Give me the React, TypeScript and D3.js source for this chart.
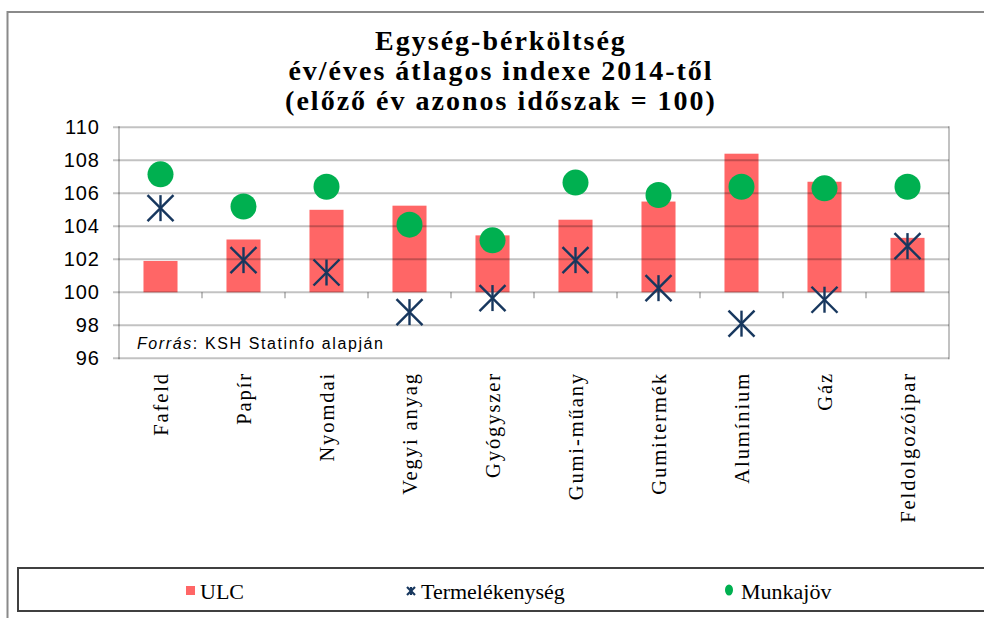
import React from "react";
import * as d3 from "d3";

const categories = ["Fafeld", "Papír", "Nyomdai", "Vegyi anyag", "Gyógyszer", "Gumi-műany", "Gumitermék", "Alumínium", "Gáz", "Feldolgozóipar"];
const ulc = [101.9, 103.2, 105.0, 105.25, 103.45, 104.4, 105.5, 108.4, 106.7, 103.3];
const termelekenyseg = [105.1, 101.95, 101.2, 98.8, 99.65, 101.95, 100.25, 98.1, 99.55, 102.8];
const munkajov = [107.15, 105.2, 106.4, 104.1, 103.15, 106.65, 105.9, 106.4, 106.3, 106.4];
const yTicks = [96, 98, 100, 102, 104, 106, 108, 110];
const titleLines = ["Egység-bérköltség", "év/éves átlagos indexe 2014-től", "(előző év azonos időszak = 100)"];
const legendLabels = ["ULC", "Termelékenység", "Munkajöv"];

const W = 984, H = 618;
const plot = { left: 119, right: 949, top: 127.3, bottom: 358.3 };
const RED = "#FF6666", GREEN = "#00B050", NAVY = "#17375E";

function Star({ x, y, s = 13, sw = 2.4 }: { x: number; y: number; s?: number; sw?: number }) {
  return (
    <g stroke={NAVY} strokeWidth={sw}>
      <line x1={x - s} y1={y - s} x2={x + s} y2={y + s} />
      <line x1={x - s} y1={y + s} x2={x + s} y2={y - s} />
      <line x1={x} y1={y - s} x2={x} y2={y + s} />
    </g>
  );
}

export default function App() {
  const x = d3.scaleBand<string>().domain(categories).range([plot.left, plot.right]).paddingInner(0.59).paddingOuter(0.295);
  const y = d3.scaleLinear().domain([96, 110]).range([plot.bottom, plot.top]);
  const step = x.step();
  const cx = (c: string) => (x(c) as number) + x.bandwidth() / 2;
  const y100 = y(100);

  return (
    <svg width={W} height={H} style={{ position: "absolute", left: 0, top: 0, background: "#fff" }}>
      {/* outer border */}
      <line x1={7} y1={12} x2={W} y2={12} stroke="#8a8a8a" strokeWidth={2} />
      <line x1={7.5} y1={11} x2={7.5} y2={H} stroke="#8a8a8a" strokeWidth={2} />

      {/* title */}
      {titleLines.map((t, i) => (
        <text key={i} x={501} y={50 + i * 30} textAnchor="middle" fontFamily="'Liberation Serif', serif" fontWeight="bold" fontSize={28} letterSpacing={2} fill="#000">{t}</text>
      ))}

      {/* bars */}
      {categories.map((c, i) => (
        <rect key={c} x={x(c)} y={y(Math.max(ulc[i], 100))} width={x.bandwidth()} height={Math.abs(y(ulc[i]) - y100)} fill={RED} />
      ))}

      {/* gridlines */}
      {yTicks.map(t => (
        <line key={t} x1={plot.left - 6} x2={plot.right} y1={y(t)} y2={y(t)} stroke="rgba(0,0,0,0.24)" strokeWidth={2} />
      ))}
      <line x1={plot.left} x2={plot.left} y1={plot.top - 1} y2={plot.bottom + 1} stroke="rgba(0,0,0,0.24)" strokeWidth={2} />
      <line x1={plot.right} x2={plot.right} y1={plot.top - 1} y2={plot.bottom + 1} stroke="rgba(0,0,0,0.24)" strokeWidth={2} />
      {d3.range(1, categories.length).map(k => (
        <line key={k} x1={plot.left + k * step} x2={plot.left + k * step} y1={y100} y2={y100 + 6} stroke="rgba(0,0,0,0.24)" strokeWidth={2} />
      ))}

      {/* y labels */}
      {yTicks.map(t => (
        <text key={t} x={100} y={y(t) + 7} textAnchor="end" fontFamily="'Liberation Sans', sans-serif" fontSize={20} letterSpacing={1} fill="#000">{t}</text>
      ))}

      {/* markers */}
      {categories.map((c, i) => (
        <circle key={c} cx={cx(c)} cy={y(munkajov[i])} r={13} fill={GREEN} />
      ))}
      {categories.map((c, i) => (
        <Star key={c} x={cx(c)} y={y(termelekenyseg[i])} />
      ))}

      {/* source */}
      <text x={137} y={349} fontFamily="'Liberation Sans', sans-serif" fontSize={16} letterSpacing={1.6} fill="#000">
        <tspan fontStyle="italic">Forrás</tspan>: KSH Statinfo alapján
      </text>

      {/* category labels */}
      {categories.map(c => (
        <text key={c} transform={`translate(${cx(c) + 7},372) rotate(-90)`} textAnchor="end" fontFamily="'Liberation Serif', serif" fontSize={20.5} letterSpacing={1.9} fill="#000">{c}</text>
      ))}

      {/* legend */}
      <rect x={18} y={568} width={W} height={43} fill="none" stroke="#404040" strokeWidth={2} />
      <rect x={186} y={586} width={9} height={9} fill={RED} />
      <text x={200} y={599} fontFamily="'Liberation Serif', serif" fontSize={22} fill="#000">{legendLabels[0]}</text>
      <Star x={411} y={591} s={4} sw={2.2} />
      <text x={421} y={599} fontFamily="'Liberation Serif', serif" fontSize={22} fill="#000">{legendLabels[1]}</text>
      <ellipse cx={729} cy={590} rx={4} ry={5.5} fill={GREEN} />
      <text x={741} y={599} fontFamily="'Liberation Serif', serif" fontSize={22} fill="#000">{legendLabels[2]}</text>
    </svg>
  );
}
